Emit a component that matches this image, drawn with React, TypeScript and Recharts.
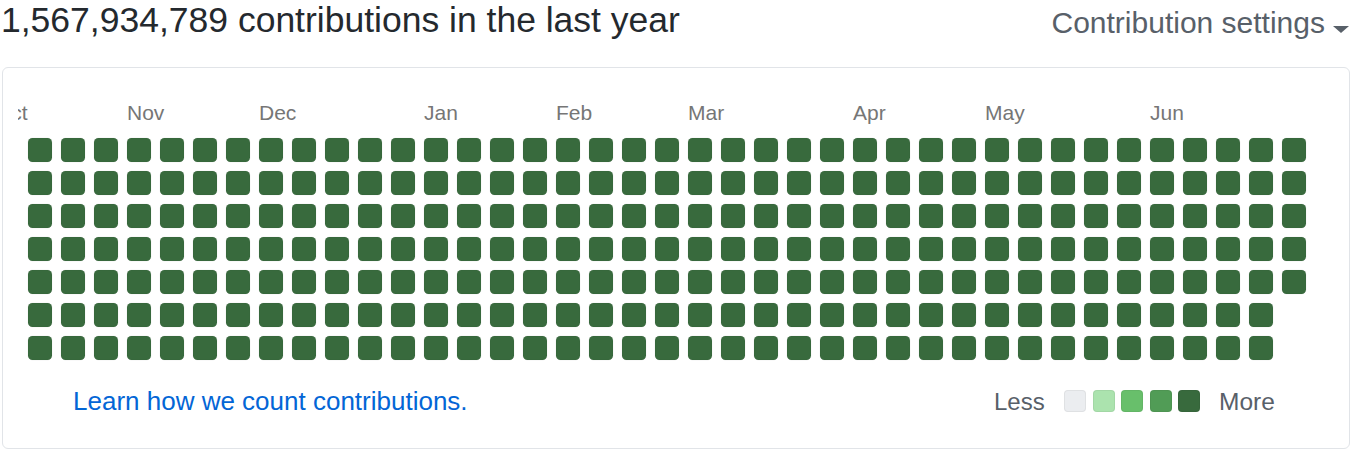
import React from "react";
import { ScatterChart, Scatter, XAxis, YAxis } from "recharts";

// one string per week column, one digit per day (0..4 contribution level)
const weekLevels: string[] = [
  "4444444", "4444444", "4444444", "4444444", "4444444", "4444444", "4444444", "4444444",
  "4444444", "4444444", "4444444", "4444444", "4444444", "4444444", "4444444", "4444444",
  "4444444", "4444444", "4444444", "4444444", "4444444", "4444444", "4444444", "4444444",
  "4444444", "4444444", "4444444", "4444444", "4444444", "4444444", "4444444", "4444444",
  "4444444", "4444444", "4444444", "4444444", "4444444", "4444444", "44444",
];

const monthLabels = ["Oct", "Nov", "Dec", "Jan", "Feb", "Mar", "Apr", "May", "Jun"];
const monthWeeks = [-1, 3, 7, 12, 16, 20, 25, 29, 34];

const levelColors = ["#ebedf0", "#abe3ae", "#68bf6b", "#519c56", "#386a3d"];

const totalText = "1,567,934,789 contributions in the last year";

const FONT = "'Liberation Sans', Arial, sans-serif";

const cells = weekLevels.flatMap((days, week) =>
  days.split("").map((lv, day) => ({ week, day, level: Number(lv) }))
);

const monthByWeek = new Map(monthWeeks.map((w, i) => [w, monthLabels[i]]));

function MonthTick(props: any) {
  const { x, y, payload } = props;
  return (
    <text x={x} y={y - 18} fill="#767676" fontSize={21} fontFamily={FONT}>
      {monthByWeek.get(payload.value)}
    </text>
  );
}

function Cell(props: any) {
  const { cx, cy, payload } = props;
  return (
    <rect
      x={cx}
      y={cy}
      width={24}
      height={24}
      rx={4.5}
      ry={4.5}
      fill={levelColors[payload.level]}
      stroke="rgba(27,31,35,0.06)"
      strokeWidth={1}
    />
  );
}

export default function App() {
  return (
    <div style={{ position: "absolute", left: 0, top: 0, width: 1366, height: 458, background: "#fff", fontFamily: FONT, overflow: "hidden" }}>
      <div style={{ position: "absolute", left: 1, top: 3, fontSize: 35.5, lineHeight: "35.5px", color: "#24292e", whiteSpace: "nowrap" }}>
        {totalText}
      </div>
      <div style={{ position: "absolute", right: 41, top: 8, fontSize: 30, lineHeight: "30px", color: "#586069", whiteSpace: "nowrap" }}>
        Contribution settings
      </div>
      <div
        style={{
          position: "absolute", left: 1333, top: 26, width: 0, height: 0,
          borderLeft: "8.5px solid transparent", borderRight: "8.5px solid transparent", borderTop: "7px solid #586069",
        }}
      />
      <div style={{ position: "absolute", left: 2, top: 67, width: 1346, height: 380, border: "1px solid #e1e4e8", borderRadius: 6 }} />

      <div style={{ position: "absolute", left: 18, top: 67, width: 1330, height: 310, overflow: "hidden" }}>
        <div style={{ marginLeft: -23 }}>
          <ScatterChart width={1320} height={310} margin={{ top: 41, right: 0, bottom: 8, left: 0 }}>
            <XAxis
              type="number"
              dataKey="week"
              domain={[-1, 39]}
              ticks={monthWeeks}
              interval={0}
              orientation="top"
              height={30}
              axisLine={false}
              tickLine={false}
              tickSize={0}
              tickMargin={0}
              tick={<MonthTick />}
              allowDataOverflow
            />
            <YAxis type="number" dataKey="day" domain={[0, 7]} reversed hide />
            <Scatter data={cells} shape={<Cell />} isAnimationActive={false} />
          </ScatterChart>
        </div>
      </div>

      <div style={{ position: "absolute", left: 73, top: 388, fontSize: 26, lineHeight: "26px", color: "#0366d6", whiteSpace: "nowrap" }}>
        Learn how we count contributions.
      </div>
      <div style={{ position: "absolute", left: 994, top: 390, fontSize: 24, lineHeight: "24px", color: "#586069" }}>Less</div>
      {levelColors.map((c, i) => (
        <div
          key={c}
          style={{
            position: "absolute", left: 1064 + i * 28.5, top: 390, width: 22, height: 22, borderRadius: 4,
            background: c, boxShadow: "inset 0 0 0 1px rgba(27,31,35,0.06)",
          }}
        />
      ))}
      <div style={{ position: "absolute", left: 1219, top: 390, fontSize: 24.5, lineHeight: "24.5px", color: "#586069" }}>More</div>
    </div>
  );
}
